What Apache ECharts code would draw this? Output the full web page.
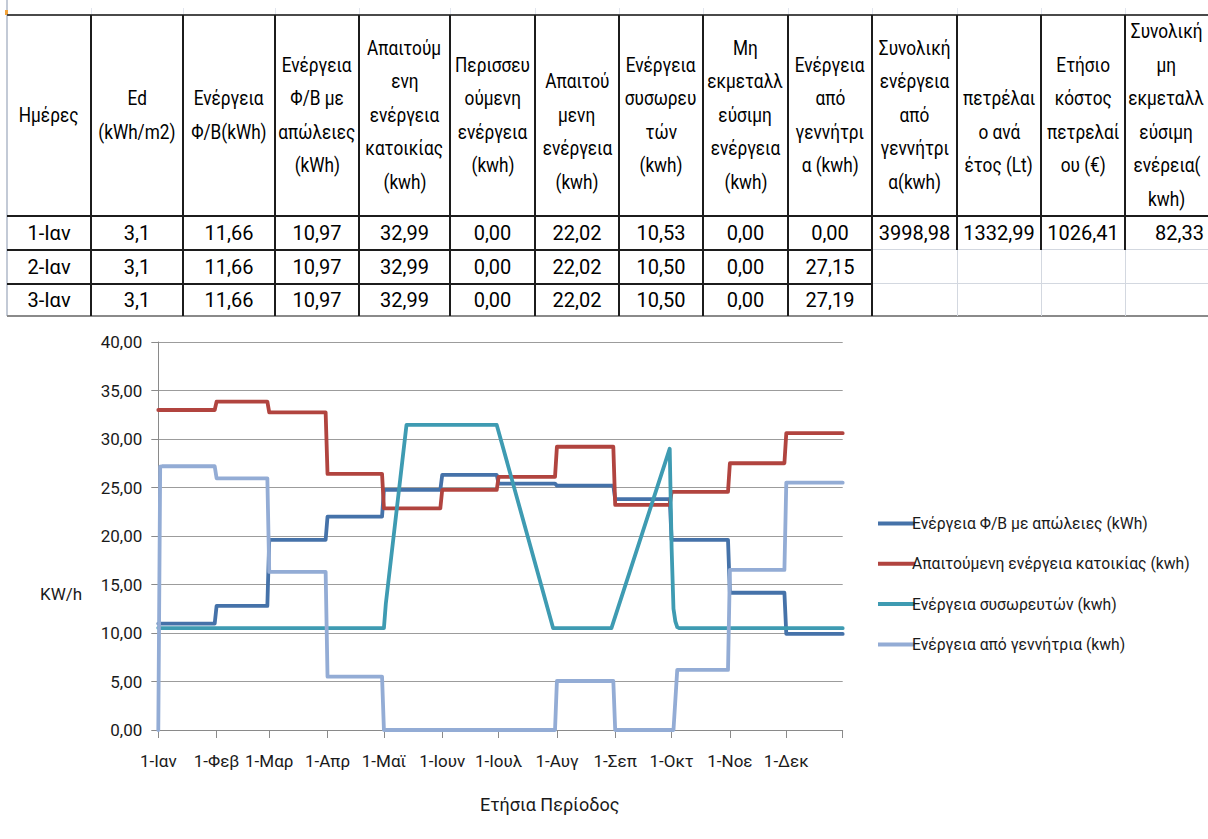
<!DOCTYPE html>
<html>
<head>
<meta charset="utf-8">
<script src="https://cdn.jsdelivr.net/npm/echarts@6/dist/echarts.min.js"></script>
<style>
  html, body { margin: 0; padding: 0; background: #fff; width: 1208px; height: 839px; overflow: hidden;
               font-family: Roboto, "Noto Sans", sans-serif; }
  #sheet { position: absolute; left: 0; top: 0; width: 1208px; height: 318px; }
  .ln { position: absolute; }
  .cell { position: absolute; display: flex; flex-direction: column; justify-content: center;
          align-items: center; text-align: center; color: #000; font-size: 20px; line-height: 33.5px;
          white-space: nowrap; }
  .cell div { width: max-content; transform: scaleX(0.86); }
  .num { position: absolute; display: flex; align-items: center; justify-content: center;
         color: #000; font-size: 20px; white-space: nowrap; }
  #chart { position: absolute; left: 0; top: 317px; width: 1208px; height: 522px; }
</style>
</head>
<body>
<div id="sheet"></div>
<div id="chart"></div>
<script>
// ---------- worksheet block above the chart ----------
const headers = [
  ['Ημέρες'],
  ['Ed', '(kWh/m2)'],
  ['Ενέργεια', 'Φ/Β(kWh)'],
  ['Ενέργεια', 'Φ/Β με', 'απώλειες', '(kWh)'],
  ['Απαιτούμ', 'ενη', 'ενέργεια', 'κατοικίας', '(kwh)'],
  ['Περισσευ', 'ούμενη', 'ενέργεια', '(kwh)'],
  ['', 'Απαιτού', 'μενη', 'ενέργεια', '(kwh)'],
  ['Ενέργεια', 'συσωρευ', 'τών', '(kwh)'],
  ['Μη', 'εκμεταλλ', 'εύσιμη', 'ενέργεια', '(kwh)'],
  ['Ενέργεια', 'από', 'γεννήτρι', 'α (kwh)'],
  ['Συνολική', 'ενέργεια', 'από', 'γεννήτρι', 'α(kwh)'],
  ['', 'πετρέλαι', 'ο ανά', 'έτος (Lt)'],
  ['Ετήσιο', 'κόστος', 'πετρελαί', 'ου (€)'],
  ['Συνολική', 'μη', 'εκμεταλλ', 'εύσιμη', 'ενέρεια(', 'kwh)']
];
const row1 = ['1-Ιαν', '3,1', '11,66', '10,97', '32,99', '0,00', '22,02', '10,53', '0,00', '0,00', '3998,98', '1332,99', '1026,41', '82,33'];
const row2 = ['2-Ιαν', '3,1', '11,66', '10,97', '32,99', '0,00', '22,02', '10,50', '0,00', '27,15', '', '', '', ''];
const row3 = ['3-Ιαν', '3,1', '11,66', '10,97', '32,99', '0,00', '22,02', '10,50', '0,00', '27,19', '', '', '', ''];

const colX = [7, 91, 183, 275, 359, 450, 535, 619, 703, 788, 872, 957, 1041, 1125, 1208];
const rowY = [15, 216, 250, 284, 316];

const sheet = document.getElementById('sheet');
function box(cls, l, t, w, h, bg) {
  const d = document.createElement('div');
  d.className = cls;
  d.style.left = l + 'px'; d.style.top = t + 'px';
  d.style.width = w + 'px'; d.style.height = h + 'px';
  if (bg) d.style.background = bg;
  sheet.appendChild(d);
  return d;
}
const dark = '#1c1c1c', light = '#d3d8e0';

// faint gridlines of the row above the table
for (let i = 1; i < colX.length - 1; i++) box('ln', colX[i], 8, 1, 6, '#e2e6ee');
// left border and corner mark
box('ln', 6, 0, 2, 316, '#c3cad6');
box('ln', 5, 10, 3, 5, '#f2a33a');

// horizontal rules
box('ln', 7, 13.5, 1201, 2, '#4a4a4a');
box('ln', 7, rowY[1] - 1, 1201, 2, dark);
box('ln', 7, rowY[2] - 1, colX[10] - 7, 2, dark);
box('ln', colX[10], rowY[2] - 1, 1208 - colX[10], 1, light);
box('ln', 7, rowY[3] - 1, colX[10] - 7, 2, dark);
box('ln', colX[10], rowY[3] - 1, 1208 - colX[10], 1, light);
box('ln', 7, rowY[4] - 1, 1201, 2, '#8a8a8a');

// vertical rules
for (let i = 1; i < colX.length - 1; i++) {
  const x = colX[i];
  if (i <= 10) {
    box('ln', x - 1, rowY[0], 2, rowY[4] - rowY[0], dark);
  } else {
    box('ln', x - 1, rowY[0], 2, rowY[2] - rowY[0], dark);
    box('ln', x, rowY[2], 1, rowY[4] - rowY[2], light);
  }
}

// header text
headers.forEach((lines, i) => {
  const c = box('cell', colX[i], rowY[0], colX[i + 1] - colX[i], rowY[1] - rowY[0]);
  lines.forEach(t => {
    const s = document.createElement('div');
    s.textContent = t === '' ? '\u00a0' : t;
    c.appendChild(s);
  });
});

// data rows
[row1, row2, row3].forEach((row, r) => {
  row.forEach((t, i) => {
    if (t === '') return;
    const c = box('num', colX[i], rowY[r + 1], colX[i + 1] - colX[i], rowY[r + 2] - rowY[r + 1]);
    c.textContent = t;
    if (i === row.length - 1) { c.style.justifyContent = 'flex-end'; c.style.paddingRight = '4px'; c.style.boxSizing = 'border-box'; }
  });
});

// ---------- chart data ----------
const monthNames = ['Ιαν', 'Φεβ', 'Μαρ', 'Απρ', 'Μαϊ', 'Ιουν', 'Ιουλ', 'Αυγ', 'Σεπ', 'Οκτ', 'Νοε', 'Δεκ'];
const monthLengths = [31, 28, 31, 30, 31, 30, 31, 31, 30, 31, 30, 31];

// PV energy with losses and household demand, constant within each month (kWh/day)
const pvByMonth     = [10.97, 12.8, 19.6, 22.0, 24.75, 26.3, 25.4, 25.2, 23.8, 19.6, 14.15, 9.9];
const demandByMonth = [32.99, 33.85, 32.75, 26.4, 22.85, 24.75, 26.1, 29.2, 23.2, 24.55, 27.5, 30.6];

// battery energy, as the days where its course changes
const batteryPoints = [
  ['1-Ιαν', 10.53], ['2-Ιαν', 10.5], ['1-Μαϊ', 10.5], ['2-Μαϊ', 13.0], ['13-Μαϊ', 31.45],
  ['30-Ιουν', 31.45], ['30-Ιουλ', 10.5], ['30-Αυγ', 10.5], ['30-Σεπ', 29.0],
  ['1-Οκτ', 18.8], ['2-Οκτ', 12.5], ['3-Οκτ', 11.2], ['4-Οκτ', 10.6], ['5-Οκτ', 10.5], ['31-Δεκ', 10.5]
];

// generator energy, as the days where its course changes
const generatorPoints = [
  ['1-Ιαν', 0], ['2-Ιαν', 27.15], ['3-Ιαν', 27.19], ['31-Ιαν', 27.19],
  ['1-Φεβ', 25.95], ['28-Φεβ', 25.95], ['1-Μαρ', 16.3], ['31-Μαρ', 16.3],
  ['1-Απρ', 5.5], ['30-Απρ', 5.5], ['1-Μαϊ', 0], ['31-Ιουλ', 0],
  ['1-Αυγ', 5.05], ['31-Αυγ', 5.05], ['1-Σεπ', 0], ['2-Οκτ', 0], ['4-Οκτ', 6.2], ['31-Οκτ', 6.2],
  ['1-Νοε', 16.5], ['30-Νοε', 16.5], ['1-Δεκ', 25.5], ['31-Δεκ', 25.5]
];

const seriesNames = [
  'Ενέργεια Φ/Β με απώλειες (kWh)',
  'Απαιτούμενη ενέργεια κατοικίας (kwh)',
  'Ενέργεια συσωρευτών (kwh)',
  'Ενέργεια από γεννήτρια (kwh)'
];
const seriesColors = ['#4572A9', '#B1443F', '#3E9BB2', '#93ACD5'];

// ---------- build daily categories ----------
const dayLabels = [];
const monthStart = [];
monthLengths.forEach((len, m) => {
  monthStart.push(dayLabels.length);
  for (let d = 1; d <= len; d++) dayLabels.push(d + '-' + monthNames[m]);
});
const lastDay = dayLabels.length - 1;
const isMonthStart = i => monthStart.indexOf(i) !== -1;

function monthlySteps(values) {
  const out = [];
  values.forEach((v, m) => {
    out.push([monthStart[m], v]);
    out.push([monthStart[m] + monthLengths[m] - 1, v]);
  });
  return out;
}
const fromPoints = pts => pts.map(([day, v]) => [dayLabels.indexOf(day), v]);

const seriesData = [
  monthlySteps(pvByMonth),
  monthlySteps(demandByMonth),
  fromPoints(batteryPoints),
  fromPoints(generatorPoints)
];

// ---------- chart ----------
const chart = echarts.init(document.getElementById('chart'), null, { renderer: 'svg' });
const font = 'Roboto, "Noto Sans", sans-serif';
chart.setOption({
  animation: false,
  backgroundColor: 'transparent',
  grid: { left: 158.3, top: 25, right: 365.3, bottom: 109, containLabel: false },
  xAxis: {
    type: 'category',
    data: dayLabels,
    boundaryGap: false,
    axisLine: { lineStyle: { color: '#8a8a8a', width: 1 } },
    axisTick: { show: true, length: 8, lineStyle: { color: '#8a8a8a' },
                interval: (i) => isMonthStart(i) || i === lastDay },
    axisLabel: { interval: (i) => isMonthStart(i), margin: 22, color: '#1a1a1a',
                 fontSize: 17, fontFamily: font },
    splitLine: { show: false }
  },
  yAxis: {
    type: 'value',
    min: 0, max: 40, interval: 5,
    axisLine: { show: true, lineStyle: { color: '#8a8a8a', width: 1 } },
    axisTick: { show: true, length: 7, lineStyle: { color: '#8a8a8a' } },
    axisLabel: { margin: 16, color: '#1a1a1a', fontSize: 17, fontFamily: font,
                 formatter: v => v.toFixed(2).replace('.', ',') },
    splitLine: { lineStyle: { color: '#9c9c9c', width: 1.2 } }
  },
  legend: {
    orient: 'vertical',
    left: 873, top: 191.5,
    itemWidth: 37, itemHeight: 4, itemGap: 20.3,
    icon: 'rect',
    textStyle: { fontSize: 15.7, lineHeight: 20, color: '#1a1a1a', fontFamily: font, padding: [0, 0, 0, -8] },
    data: seriesNames
  },
  graphic: [
    { type: 'text', left: 40, top: 268, style: { text: 'KW/h', fill: '#1a1a1a', font: '17px ' + font } },
    { type: 'text', left: 480, top: 478, style: { text: 'Ετήσια Περίοδος', fill: '#1a1a1a', font: '18px ' + font } }
  ],
  series: seriesNames.map((name, k) => ({
    name,
    type: 'line',
    data: seriesData[k],
    showSymbol: false,
    symbol: 'none',
    color: seriesColors[k],
    lineStyle: { width: 3.8, color: seriesColors[k], cap: 'round', join: 'round' }
  }))
});
</script>
</body>
</html>
